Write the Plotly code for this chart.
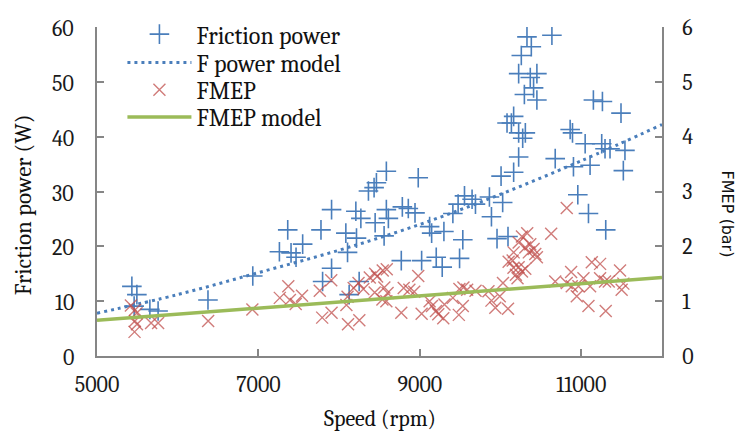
import plotly.graph_objects as go

# Measured friction power (W) against engine speed (rpm)
speed_fp = [5432, 5494, 5460, 5655, 5757, 6375, 6930, 7260, 7363, 7404,
            7466, 7548, 7775, 7906, 7795, 7906, 8083, 8104, 8215, 8207,
            8269, 8124, 8248, 8363, 8433, 8462, 8446, 8585, 8585, 8610,
            8557, 8783, 8857, 8940, 8770, 8980, 9022, 9121, 9146, 9203,
            9277, 9298, 9409, 9492, 9474, 9532, 9553, 9647, 9689, 9862,
            9887, 9956, 10006, 10026, 10092, 10162, 10224, 10080, 10162, 10134,
            10224, 10307, 10274, 10327, 10381, 10257, 10636, 10224, 10368, 10450,
            10409, 10295, 10450, 10862, 10891, 11150, 11262, 11492, 11048, 11253,
            11294, 11356, 11541, 11109, 10903, 10677, 10957, 11089, 11303, 11521]
friction_power = [12.7, 11.2, 9.1, 8.5, 8.2, 10.2, 14.6, 19.0, 23.0, 18.8,
                  18.0, 20.4, 23.0, 26.7, 13.6, 16.0, 22.4, 18.9, 21.5, 26.4,
                  25.1, 11.2, 13.6, 30.1, 30.7, 31.6, 24.3, 33.7, 26.7, 25.1,
                  21.9, 27.2, 26.9, 26.1, 17.4, 32.5, 17.4, 23.6, 22.4, 18.0,
                  16.2, 22.7, 26.0, 17.8, 27.7, 21.2, 29.2, 28.6, 27.7, 29.0,
                  25.4, 21.4, 32.8, 28.0, 21.8, 33.5, 36.3, 42.5, 43.7, 42.5,
                  40.7, 40.7, 39.7, 58.2, 56.4, 54.8, 58.5, 51.5, 50.8, 51.5,
                  48.9, 47.7, 46.7, 41.3, 40.7, 46.7, 46.4, 44.3, 38.7, 38.7,
                  37.8, 37.8, 37.5, 34.8, 34.5, 36.0, 29.4, 26.0, 23.0, 33.8]

# Measured friction mean effective pressure (bar)
speed_fmep = [5420, 5470, 5490, 5470, 5495, 5465, 5670, 5757, 6377, 6925,
              7265, 7370, 7390, 7462, 7540, 7760, 7902, 7790, 7906, 8110,
              8250, 8090, 8104, 8180, 8240, 8300, 8380, 8446, 8470, 8440,
              8540, 8590, 8560, 8600, 8585, 8536, 8770, 8800, 8870, 8930,
              8980, 9022, 9121, 9150, 9200, 9228, 9290, 9305, 9409, 9483,
              9490, 9532, 9540, 9586, 9690, 9850, 9887, 9935, 9990, 10092,
              10030, 10100, 10150, 10160, 10190, 10210, 10224, 10265, 10306, 10162,
              10224, 10265, 10330, 10306, 10368, 10409, 10430, 10450, 10350, 10627,
              10820, 10677, 10820, 10874, 10882, 10965, 10944, 11089, 11027, 11109,
              11130, 11233, 11233, 11294, 11340, 11303, 11480, 11521, 11500]
fmep = [0.92, 0.84, 0.78, 0.64, 0.58, 0.44, 0.60, 0.60, 0.64, 0.85,
        1.06, 1.27, 1.02, 0.95, 1.10, 1.19, 1.38, 0.70, 0.79, 0.58,
        0.65, 0.93, 1.08, 1.24, 1.33, 1.22, 1.43, 1.50, 1.45, 1.16,
        1.56, 1.58, 1.25, 1.15, 1.00, 1.03, 0.79, 1.24, 1.21, 1.17,
        1.46, 0.77, 1.00, 0.91, 0.82, 0.76, 0.69, 0.94, 1.06, 0.75,
        1.22, 0.91, 1.25, 1.21, 1.19, 1.18, 1.01, 0.88, 1.09, 0.86,
        1.33, 1.72, 1.74, 1.61, 1.48, 1.42, 1.62, 1.54, 1.59, 1.89,
        2.07, 2.18, 2.24, 1.98, 2.04, 1.95, 1.86, 1.80, 1.89, 2.23,
        2.70, 1.36, 1.33, 1.53, 1.27, 1.27, 1.09, 0.91, 1.42, 1.27,
        1.71, 1.68, 1.42, 1.36, 1.36, 0.82, 1.56, 1.32, 1.21]

# Model curves
model_speed = [5000, 6000, 7000, 8000, 9000, 10000, 11000, 12000]
fpower_model = [7.8, 11.2, 15.2, 19.3, 24.0, 29.5, 35.6, 42.2]
fmep_model_speed = [5000, 12000]
fmep_model = [0.65, 1.43]

# Axis ticks
speed_ticks = [5000, 7000, 9000, 11000]
speed_tick_labels = ["5000", "7000", "9000", "11000"]
power_ticks = [0, 10, 20, 30, 40, 50, 60]

SERIF = "Cambria, 'Liberation Serif', 'Times New Roman', serif"
AXIS_GREY = "#868686"
BLUE = "#4A7EBB"
RED = "rgba(192, 80, 77, 0.75)"
GREEN = "#9BBB59"
TEXT = "#111111"

fig = go.Figure()

fig.add_trace(go.Scatter(
    x=speed_fp, y=friction_power, mode="markers", name="Friction power",
    marker=dict(symbol="cross-thin", size=14, line=dict(color=BLUE, width=1.6)),
    legend="legend",
))
fig.add_trace(go.Scatter(
    x=model_speed, y=fpower_model, mode="lines", name="F power model",
    line=dict(color=BLUE, width=3, dash="3px,4px", shape="spline"),
    legend="legend2",
))
fig.add_trace(go.Scatter(
    x=speed_fmep, y=fmep, mode="markers", name="FMEP", yaxis="y2",
    marker=dict(symbol="x-thin", size=12, line=dict(color=RED, width=1.4)),
    legend="legend3",
))
fig.add_trace(go.Scatter(
    x=fmep_model_speed, y=fmep_model, mode="lines", name="FMEP model", yaxis="y2",
    line=dict(color=GREEN, width=3.5),
    legend="legend4",
))

tick_font = dict(family=SERIF, size=22, color="#1a1a1a")
axis_common = dict(
    showgrid=False, zeroline=False, showline=True, linecolor=AXIS_GREY, linewidth=1.5,
    ticks="inside", ticklen=7, tickcolor=AXIS_GREY, tickwidth=1.5,
    tickfont=tick_font, automargin=False,
)

legend_font = dict(family=SERIF, size=24, color=TEXT)
def legend_at(ypos):
    return dict(x=0.045, y=ypos, xanchor="left", yanchor="middle",
                bgcolor="rgba(0,0,0,0)", font=legend_font, itemwidth=64,
                borderwidth=0)

# Left-axis value labels, placed on the y scale just outside the axis line
left_labels = [
    dict(text=str(v), x=-0.038, xref="paper", y=v, yref="y", xanchor="right",
         yanchor="middle", yshift=-2, showarrow=False, font=tick_font)
    for v in power_ticks
]

fig.update_layout(
    width=738, height=435,
    margin=dict(l=97, r=76, t=19, b=79),
    paper_bgcolor="white", plot_bgcolor="white",
    showlegend=True,
    legend=legend_at(0.977),
    legend2=legend_at(0.891),
    legend3=legend_at(0.808),
    legend4=legend_at(0.725),
    xaxis=dict(range=[5000, 12000], tickvals=speed_ticks, ticktext=speed_tick_labels,
               ticklabelstandoff=8, **axis_common),
    yaxis=dict(range=[0, 60], tickvals=power_ticks, showticklabels=False, **axis_common),
    yaxis2=dict(range=[0, 6], dtick=1, overlaying="y", side="right",
                ticklabelstandoff=14, **axis_common),
    annotations=left_labels + [
        dict(text="Friction power (W)", textangle=-90, showarrow=False,
             xref="paper", yref="paper", x=-0.13, y=0.46, xanchor="center", yanchor="middle",
             font=dict(family=SERIF, size=23, color=TEXT)),
        dict(text="FMEP (bar)", textangle=90, showarrow=False,
             xref="paper", yref="paper", x=1.115, y=0.43, xanchor="center", yanchor="middle",
             font=dict(family="'DejaVu Sans', Verdana, sans-serif", size=16, color=TEXT)),
        dict(text="Speed (rpm)", showarrow=False,
             xref="paper", yref="paper", x=0.5, y=-0.19, xanchor="center", yanchor="middle",
             font=dict(family=SERIF, size=22, color=TEXT)),
    ],
)

fig.write_html("out.html")
